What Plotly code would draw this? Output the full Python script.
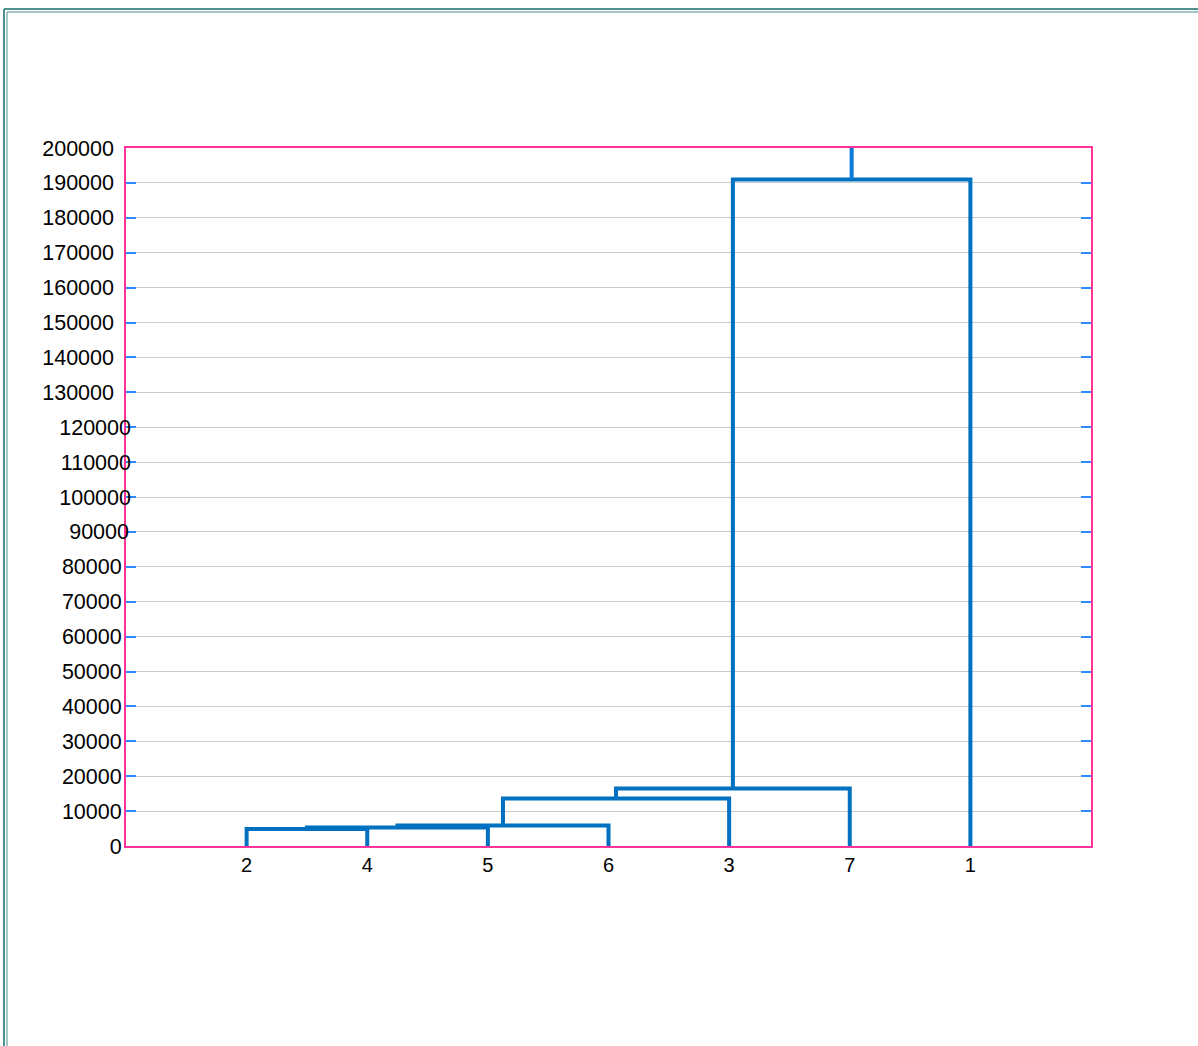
import plotly.graph_objects as go

# ---- data ----
leaf_labels = ["2", "4", "5", "6", "3", "7", "1"]          # leaf order on the x axis
merge_left = ["2", "C1", "C2", "C3", "C4", "C5"]            # left child of each merge
merge_right = ["4", "5", "6", "3", "7", "1"]                # right child of each merge
merge_height = [4900, 5300, 5900, 13600, 16500, 191000]     # merge distance
root_top = 200000

ticks_c = [0, 10000, 20000, 30000, 40000, 50000, 60000, 70000, 80000]
ticks_d = [90000]
ticks_b = [100000, 110000, 120000]
ticks_a = [130000, 140000, 150000, 160000, 170000, 180000, 190000, 200000]

# ---- build dendrogram segments from the linkage ----
pos = {lab: i + 1 for i, lab in enumerate(leaf_labels)}
hgt = {lab: 0 for lab in leaf_labels}
xs, ys = [], []
for i, (l, r, h) in enumerate(zip(merge_left, merge_right, merge_height)):
    xl, xr = pos[l], pos[r]
    xs += [xl, xl, xr, xr, None]
    ys += [hgt[l], h, h, hgt[r], None]
    cid = "C%d" % (i + 1)
    pos[cid] = (xl + xr) / 2
    hgt[cid] = h
root = "C%d" % len(merge_height)

LINE = "#0070C0"
PINK = "#FF3399"
TICK = "#2E8BFF"
GRID = "#CCCCCC"
FONT = "Liberation Sans, Arial, sans-serif"

fig = go.Figure()
fig.add_trace(go.Scatter(x=xs, y=ys, mode="lines", line=dict(color=LINE, width=4),
                         hoverinfo="skip", showlegend=False))
fig.add_trace(go.Scatter(x=[pos[root], pos[root]], y=[hgt[root], root_top], mode="lines",
                         line=dict(color="#0A7AD8", width=4), hoverinfo="skip", showlegend=False))
for ax in ["y2", "y3", "y4"]:
    fig.add_trace(go.Scatter(x=[], y=[], yaxis=ax, showlegend=False))

yax_common = dict(range=[0, 200000], showgrid=True, gridcolor=GRID, gridwidth=1,
                  ticks="inside", ticklen=10, tickwidth=2, tickcolor=TICK,
                  zeroline=False, tickfont=dict(family=FONT, size=21.5, color="black"),
                  fixedrange=True, tickmode="array")
overlay = dict(overlaying="y", anchor="x", side="left", showline=False, mirror="ticks")

fig.update_layout(
    width=1198, height=1046,
    margin=dict(l=126, r=107, t=148, b=200),
    paper_bgcolor="white", plot_bgcolor="white",
    xaxis=dict(range=[0, 8], tickmode="array", tickvals=[pos[l] for l in leaf_labels],
               ticktext=leaf_labels, showgrid=False, zeroline=False, ticks="",
               showline=True, linecolor=PINK, linewidth=2, mirror=True, fixedrange=True,
               tickfont=dict(family=FONT, size=20, color="black")),
    yaxis=dict(tickvals=ticks_c, ticktext=[str(v) for v in ticks_c], showline=True,
               linecolor=PINK, linewidth=2, mirror="ticks", ticklabelstandoff=-2, **yax_common),
    yaxis2=dict(tickvals=ticks_a, ticktext=[str(v) for v in ticks_a],
                ticklabelstandoff=11, **overlay, **yax_common),
    yaxis3=dict(tickvals=ticks_b, ticktext=[str(v) for v in ticks_b],
                ticklabelstandoff=-6, **overlay, **yax_common),
    yaxis4=dict(tickvals=ticks_d, ticktext=[str(v) for v in ticks_d],
                ticklabelstandoff=-4, **overlay, **yax_common),
    shapes=[
        dict(type="line", xref="paper", yref="paper", x0=-122/965, x1=1.2, y0=1+139/698, y1=1+139/698,
             line=dict(color="#4F9090", width=2)),
        dict(type="line", xref="paper", yref="paper", x0=-122/965, x1=-122/965, y0=1+139/698, y1=-0.4,
             line=dict(color="#4F9090", width=2)),
        dict(type="line", xref="paper", yref="paper", x0=-119/965, x1=1.2, y0=1+136/698, y1=1+136/698,
             line=dict(color="#86B4B4", width=1.5)),
        dict(type="line", xref="paper", yref="paper", x0=-119/965, x1=-119/965, y0=1+136/698, y1=-0.4,
             line=dict(color="#86B4B4", width=1.5)),
    ],
)

fig.write_html("out.html", config={"displayModeBar": False},
               post_script="document.body.style.margin='0';document.body.style.overflow='hidden';")
